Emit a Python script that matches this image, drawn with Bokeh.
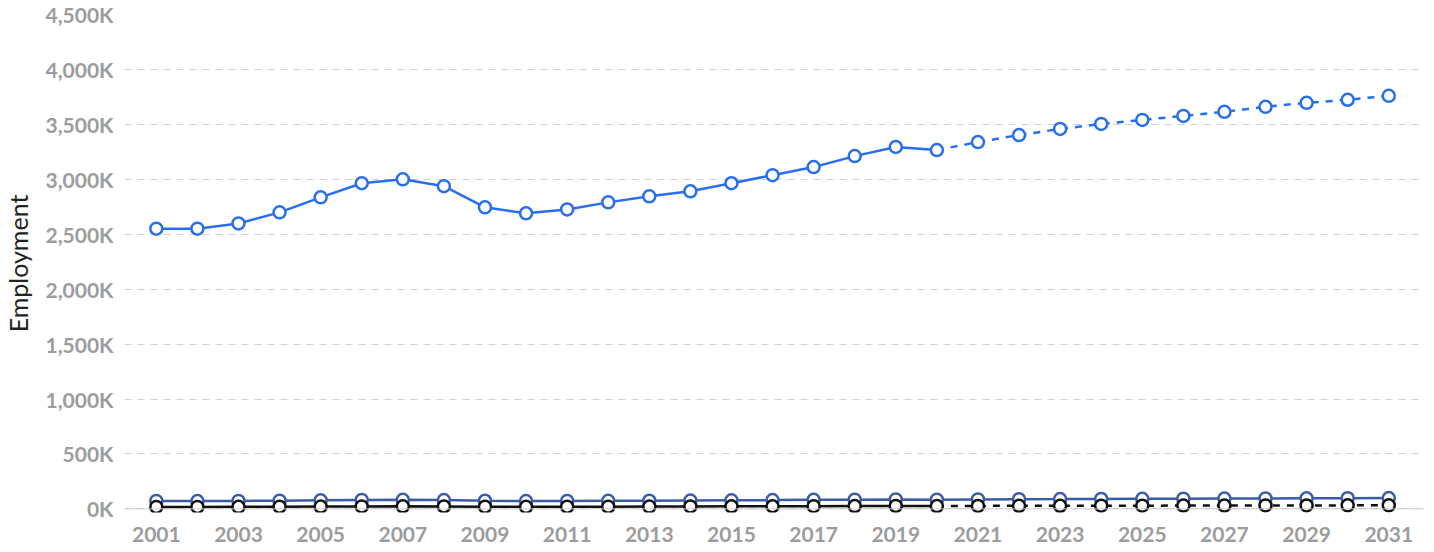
from bokeh.plotting import figure
from bokeh.models import Range1d, FixedTicker, Span, CustomJSTickFormatter
from bokeh.embed import file_html
from bokeh.resources import INLINE

years = list(range(2001, 2032))
actual_end = 2020

main_series = [2550, 2550, 2598, 2699, 2836, 2964, 3000, 2937, 2745, 2690,
               2726, 2790, 2845, 2891, 2964, 3037, 3111, 3211, 3294, 3266,
               3339, 3403, 3458, 3504, 3540, 3577, 3614, 3660, 3696, 3724, 3760]
second_series = [72, 71, 72, 75, 78, 81, 82, 80, 74, 71,
                 72, 73, 74, 76, 78, 80, 82, 84, 86, 84,
                 86, 88, 89, 91, 92, 93, 94, 95, 96, 97, 98]
third_series = [18, 18, 19, 20, 21, 22, 23, 22, 20, 19,
                20, 20, 21, 22, 23, 24, 25, 26, 27, 26,
                27, 28, 28, 29, 29, 30, 30, 31, 31, 32, 32]

y_ticks = [0, 500, 1000, 1500, 2000, 2500, 3000, 3500, 4000, 4500]
x_ticks = list(range(2001, 2032, 2))

FONT = "Lato"
TICK_COLOR = "#9c9c9c"

p = figure(width=1426, height=544, output_backend="svg", toolbar_location=None,
           x_range=Range1d(2000.225, 2031.87), y_range=Range1d(-33, 4500),
           min_border_left=114, min_border_right=2, min_border_top=14, min_border_bottom=30)
p.outline_line_color = None
p.background_fill_color = "white"

p.xgrid.grid_line_color = None
p.ygrid.grid_line_color = "#d0d0d0"
p.ygrid.grid_line_dash = "7 6"
p.ygrid.grid_line_width = 1

p.yaxis.ticker = FixedTicker(ticks=y_ticks)
p.yaxis.formatter = CustomJSTickFormatter(code="return tick.toLocaleString('en-US') + 'K';")
p.xaxis.ticker = FixedTicker(ticks=x_ticks)
for ax in (p.xaxis, p.yaxis):
    ax.axis_line_color = None
    ax.major_tick_line_color = None
    ax.minor_tick_line_color = None
    ax.major_label_text_font = FONT
    ax.major_label_text_font_size = "21px"
    ax.major_label_text_color = TICK_COLOR
    ax.major_label_text_font_style = "bold"
p.yaxis.major_label_standoff = 5
p.xaxis.major_label_standoff = 8
p.yaxis.axis_label = "Employment"
p.yaxis.axis_label_text_font = FONT
p.yaxis.axis_label_text_font_size = "25px"
p.yaxis.axis_label_text_font_style = "normal"
p.yaxis.axis_label_text_color = "#222222"
p.yaxis.axis_label_standoff = 9

p.add_layout(Span(location=0, dimension="width", line_color="#cccccc", line_width=1))

def draw(vals, color, dash_future):
    n_act = years.index(actual_end) + 1
    xa, ya = years[:n_act], vals[:n_act]
    xf, yf = years[n_act - 1:], vals[n_act - 1:]
    p.line(xa, ya, line_color=color, line_width=2.5)
    p.line(xf, yf, line_color=color, line_width=2.5,
           line_dash="7 7" if dash_future else "solid")
    p.scatter(years, vals, size=12, fill_color="white", line_color=color, line_width=2.5)

draw(second_series, "#3a5ca8", False)
draw(third_series, "#111111", True)
draw(main_series, "#2a6ef0", True)

open("out.html", "w").write(file_html(p, INLINE))
